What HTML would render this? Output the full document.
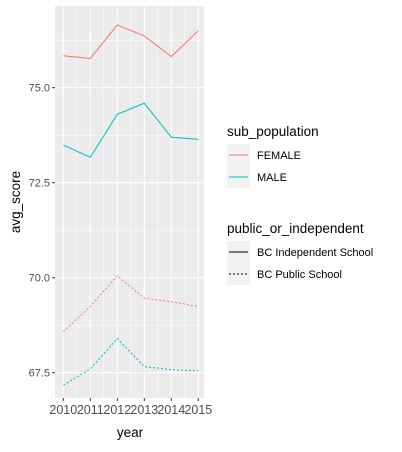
<!DOCTYPE html>
<html><head><meta charset="utf-8"><style>
body{margin:0;background:#fff;font-family:"Liberation Sans",sans-serif}
</style></head><body>
<svg id="c" width="402" height="447" xmlns="http://www.w3.org/2000/svg" font-family="Liberation Sans, sans-serif"></svg>
<script>
const years=[2010,2011,2012,2013,2014,2015];
const femaleIndependent=[75.84,75.77,76.65,76.36,75.82,76.5];
const maleIndependent=[73.49,73.17,74.3,74.59,73.7,73.64];
const femalePublic=[68.58,69.24,70.05,69.46,69.37,69.24];
const malePublic=[67.17,67.6,68.4,67.66,67.58,67.55];
const yTicks=[67.5,70.0,72.5,75.0];
const yTickLabels=["67.5","70.0","72.5","75.0"];
const NS="http://www.w3.org/2000/svg";
const svg=document.getElementById('c');
const L=55,R=204,T=6,B=398;
const x=v=>63.3+(v-2010)*27;
const y=v=>87.7-(v-75)*38;
function mk(t,a,p){const e=document.createElementNS(NS,t);for(const k in a)e.setAttribute(k,a[k]);(p||svg).appendChild(e);return e;}
const panel=mk('rect',{x:L,y:T,width:R-L,height:B-T,fill:'#EBEBEB'});


for(let i=0;i<yTicks.length+1;i++){const v=66.25+i*2.5;const yy=y(v);if(yy>T&&yy<B){const g=mk('line',{x1:L,x2:R,y1:yy,y2:yy,stroke:'#fff','stroke-width':0.5});}}
for(let i=0;i<years.length-1;i++){const xx=x(years[i]+0.5);const g=mk('line',{x1:xx,x2:xx,y1:T,y2:B,stroke:'#fff','stroke-width':0.5});}
yTicks.forEach((v,i)=>{const yy=y(v);const g=mk('line',{x1:L,x2:R,y1:yy,y2:yy,stroke:'#fff','stroke-width':1.1});
const tk=mk('line',{x1:L-3,x2:L,y1:yy,y2:yy,stroke:'#333'});
const t=mk('text',{x:L-5,y:yy+4,'text-anchor':'end','font-size':11,fill:'#4D4D4D'});t.textContent=yTickLabels[i];});
years.forEach(v=>{const xx=x(v);const g=mk('line',{x1:xx,x2:xx,y1:T,y2:B,stroke:'#fff','stroke-width':1.1});
const tk=mk('line',{x1:xx,x2:xx,y1:B,y2:B+3,stroke:'#333'});
const t=mk('text',{x:xx,y:B+16,'text-anchor':'middle','font-size':12.5,fill:'#4D4D4D'});t.textContent=v;});
function series(vals,color,dash,name){const p=mk('polyline',{points:vals.map((v,i)=>x(years[i])+','+y(v)).join(' '),fill:'none',stroke:color,'stroke-width':1,'stroke-dasharray':dash});}
series(femaleIndependent,'#F8766D','none','line-female-independent');
series(maleIndependent,'#00BFC4','none','line-male-independent');
series(femalePublic,'#F8766D','2,2','line-female-public');
series(malePublic,'#00BFC4','2,2','line-male-public');
let t=mk('text',{x:130,y:437,'text-anchor':'middle','font-size':13.5,fill:'#000'});t.textContent='year';
t=mk('text',{x:0,y:0,'text-anchor':'middle','font-size':13.5,fill:'#000',transform:'translate(20,202) rotate(-90)'});t.textContent='avg_score';
function legend(title,ty,items){const tt=mk('text',{x:227,y:ty,'font-size':13.5});tt.textContent=title;
items.forEach((it,i)=>{const ky=ty+8+i*22;const r=mk('rect',{x:227,y:ky,width:23,height:22,fill:'#F2F2F2'});
const l=mk('line',{x1:229,x2:248,y1:ky+11,y2:ky+11,stroke:it[1],'stroke-dasharray':it[2]});
const lt=mk('text',{x:257,y:ky+15,'font-size':11});lt.textContent=it[0];});}
legend('sub_population',136,[['FEMALE','#F8766D','none'],['MALE','#00BFC4','none']]);
legend('public_or_independent',233,[['BC Independent School','#000','none'],['BC Public School','#000','2,2']]);
</script>
</body></html>
